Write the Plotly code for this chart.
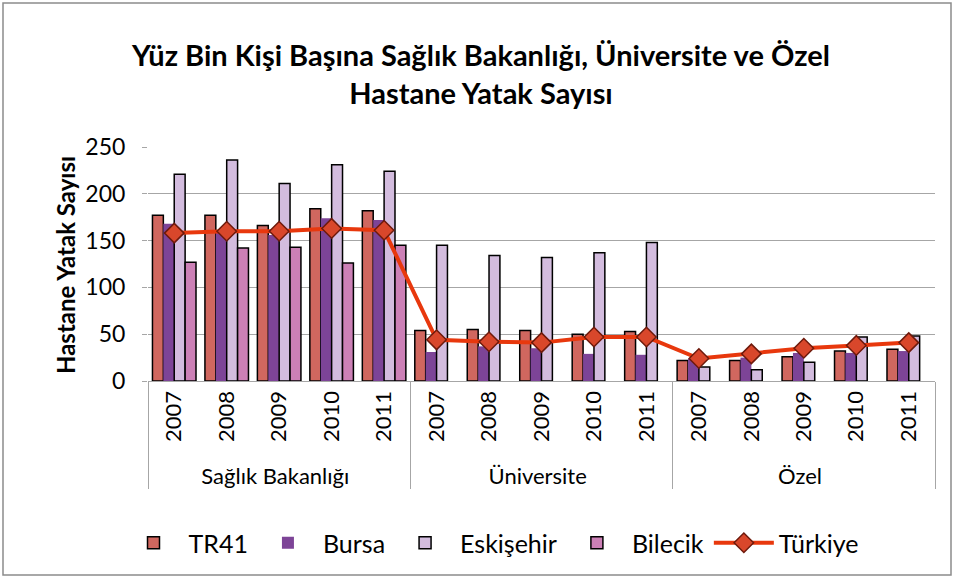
import plotly.graph_objects as go

groups = ["Sağlık Bakanlığı"] * 5 + ["Üniversite"] * 5 + ["Özel"] * 5
years = ["2007", "2008", "2009", "2010", "2011"] * 3

tr41 = [177, 177, 166, 184, 182, 54, 55, 54, 50, 53, 22, 22, 26, 32, 34]
bursa = [168, 160, 156, 174, 172, 31, 37, 35, 29, 28, 24, 25, 30, 30, 32]
eskisehir = [221, 236, 211, 231, 224, 145, 134, 132, 137, 148, 15, 12, 20, 47, 48]
bilecik = [127, 142, 143, 126, 145, None, None, None, None, None, None, None, None, None, None]
turkiye = [158, 160, 160, 163, 161, 44, 42, 41, 47, 47, 24, 29, 35, 38, 41]

x = [groups, years]
FONT = "Lato"
outline = dict(color="#000000", width=1.5)

fig = go.Figure()
fig.add_trace(go.Bar(name="TR41", x=x, y=tr41, marker=dict(color="#D0675F", line=outline)))
fig.add_trace(go.Bar(name="Bursa", x=x, y=bursa, marker=dict(color="#7D4497", line=dict(width=0))))
fig.add_trace(go.Bar(name="Eskişehir", x=x, y=eskisehir, marker=dict(color="#D3BCDE", line=outline)))
fig.add_trace(go.Bar(name="Bilecik", x=x, y=bilecik, marker=dict(color="#CC80B6", line=outline)))
fig.add_trace(go.Scatter(name="Türkiye", x=x, y=turkiye, mode="lines+markers",
                         line=dict(color="#E8380D", width=4),
                         marker=dict(symbol="diamond", size=15, color="#D9472B",
                                     line=dict(color="#6E1A0C", width=1.5))))

L, R, T, B = 148, 20, 147, 197
pw = 955 - L - R
ph = 578 - T - B

def px_x(p):
    return (p - L) / pw

def px_y(p):
    return (578 - B - p) / ph

fig.update_layout(
    width=955, height=578,
    margin=dict(l=L, r=R, t=T, b=B, autoexpand=False),
    paper_bgcolor="white", plot_bgcolor="white",
    font=dict(family=FONT, color="#000000", size=22),
    title=dict(text="<b>Yüz Bin Kişi Başına Sağlık Bakanlığı, Üniversite ve Özel<br>Hastane Yatak Sayısı</b>",
               xref="container", x=481 / 955, xanchor="center", y=1 - 66 / 578, yanchor="middle",
               font=dict(family=FONT, size=29, color="#000000")),
    barmode="group", bargap=0.17, bargroupgap=0,
    showlegend=True,
    legend=dict(orientation="h", x=px_x(491), xanchor="center", y=px_y(543), yanchor="middle",
                font=dict(family=FONT, size=25), itemwidth=60, traceorder="normal"),
    shapes=[dict(type="rect", xref="paper", yref="paper",
                 x0=px_x(3), x1=px_x(951), y0=px_y(575), y1=px_y(3),
                 line=dict(color="#8C8C8C", width=1.5), fillcolor="rgba(0,0,0,0)", layer="below")],
    annotations=[dict(text="<b>Hastane Yatak Sayısı</b>", textangle=-90, xref="paper", yref="paper",
                      x=px_x(65), y=px_y(265), xanchor="center", yanchor="middle", showarrow=False,
                      font=dict(family=FONT, size=24, color="#000000"))],
)
fig.update_yaxes(range=[0, 250], dtick=50, showgrid=True, gridcolor="#A6A6A6", gridwidth=1.3,
                 ticks="outside", ticklen=5, tickcolor="#A6A6A6", showline=False, zeroline=False,
                 tickfont=dict(size=23), ticklabelstandoff=12, automargin=False)
fig.update_xaxes(type="multicategory", range=[-0.5, 14.5], showline=True, linecolor="#A6A6A6",
                 linewidth=1.3, tickangle=-90, tickfont=dict(size=22), showdividers=True,
                 dividercolor="#A6A6A6", dividerwidth=1.3, ticks="", automargin=False)

fig.write_html("out.html", config={"displayModeBar": False},
               post_script="document.body.style.margin='0';")
